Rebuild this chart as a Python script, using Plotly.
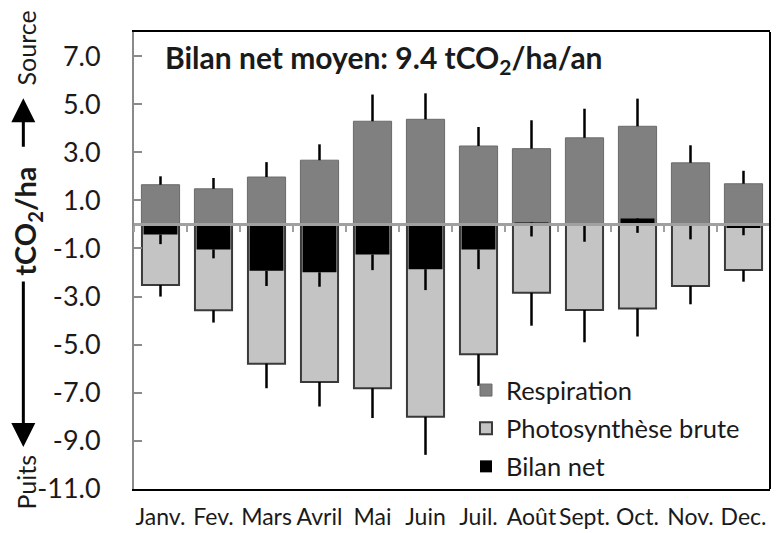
import plotly.graph_objects as go

# Monthly CO2 fluxes (tCO2/ha): ecosystem respiration, gross photosynthesis, net balance
months = ["Janv.", "Fev.", "Mars", "Avril", "Mai", "Juin", "Juil.", "Août", "Sept.", "Oct.", "Nov.", "Dec."]
respiration = [1.65, 1.48, 1.97, 2.67, 4.29, 4.37, 3.26, 3.15, 3.60, 4.08, 2.56, 1.69]
respiration_err = [0.35, 0.45, 0.62, 0.66, 1.11, 1.08, 0.79, 1.18, 1.21, 1.15, 0.73, 0.54]
photosynthese = [-2.52, -3.57, -5.79, -6.55, -6.81, -8.00, -5.40, -2.84, -3.56, -3.50, -2.56, -1.90]
photosynthese_err = [0.48, 0.51, 1.02, 1.02, 1.24, 1.58, 1.31, 1.37, 1.34, 1.16, 0.76, 0.48]
bilan = [-0.42, -1.04, -1.93, -1.99, -1.25, -1.86, -1.04, 0.08, -0.03, 0.25, -0.03, -0.15]
bilan_err = [0.40, 0.37, 0.63, 0.60, 0.65, 0.87, 0.82, 0.58, 0.69, 0.60, 0.59, 0.30]
y_ticks = [7, 5, 3, 1, -1, -3, -5, -7, -9, -11]
y_range = [-11, 8]

FONT = "Lato, 'Open Sans', sans-serif"
TXT = "#1a1a1a"
zeros = [0] * len(months)

fig = go.Figure()

fig.add_trace(go.Bar(
    name="Respiration", x=months, y=respiration, width=0.72,
    marker=dict(color="#808080", line=dict(color="#6a6a6a", width=1)),
    error_y=dict(type="data", symmetric=False, array=respiration_err, arrayminus=zeros,
                 color="black", thickness=2.5, width=0),
    legendgroup="r",
))
fig.add_trace(go.Bar(
    name="Photosynthèse brute", x=months, y=photosynthese, width=0.70,
    marker=dict(color="#c4c4c4", line=dict(color="#3a3a3a", width=2)),
    error_y=dict(type="data", symmetric=False, array=zeros, arrayminus=photosynthese_err,
                 color="black", thickness=2.5, width=0),
    legendgroup="p",
))
fig.add_trace(go.Bar(
    name="Bilan net", x=months, y=bilan, width=0.64,
    marker=dict(color="black", line=dict(color="black", width=0)),
    error_y=dict(type="data", symmetric=False, array=zeros, arrayminus=bilan_err,
                 color="black", thickness=2.5, width=0),
    legendgroup="b",
))
# empty trace so the zero-crossing category axis (x2) gets rendered
fig.add_trace(go.Scatter(
    x=months, y=[None] * len(months), xaxis="x2", mode="lines",
    showlegend=False, hoverinfo="skip",
))

zero_pos = (0 - y_range[0]) / (y_range[1] - y_range[0])

fig.update_layout(
    width=781, height=533,
    margin=dict(l=134, r=11, t=32, b=44, autoexpand=False),
    paper_bgcolor="white", plot_bgcolor="white",
    barmode="overlay",
    font=dict(family=FONT, color=TXT),
    showlegend=True,
    legend=dict(
        x=0.522, y=0.267, xanchor="left", yanchor="top",
        font=dict(size=25.5, family=FONT, color=TXT),
        bgcolor="rgba(0,0,0,0)", tracegroupgap=2, itemwidth=30,
    ),
    xaxis=dict(
        type="category", categoryarray=months, range=[-0.5, len(months) - 0.5],
        showline=True, mirror=True, linecolor="black", linewidth=2,
        ticks="outside", ticklen=6, tickcolor="rgba(0,0,0,0)",
        tickangle=0, tickfont=dict(size=23, color=TXT), showgrid=False,
    ),
    # category axis drawn through y = 0, with ticks at the category boundaries
    xaxis2=dict(
        type="category", categoryarray=months,
        overlaying="x", anchor="free", position=zero_pos, side="bottom",
        range=[-0.5, len(months) - 0.5], showline=True, linecolor="#a0a0a0", linewidth=3,
        ticks="outside", tickson="boundaries",
        ticklen=6, tickwidth=2, tickcolor="#a0a0a0",
        showticklabels=False, showgrid=False, zeroline=False, layer="above traces",
    ),
    yaxis=dict(
        range=y_range, tickvals=y_ticks, ticktext=[f"{v:.1f}" for v in y_ticks],
        ticks="inside", ticklen=8, tickwidth=2, tickcolor="#8a8a8a",
        showline=True, linecolor="#8a8a8a", linewidth=2,
        showgrid=False, zeroline=False, tickfont=dict(size=27, color=TXT),
        ticklabelstandoff=26,
    ),
    shapes=[dict(type="line", xref="paper", yref="paper", x0=1, x1=1, y0=0, y1=1,
                 line=dict(color="black", width=2))],
)

# Chart heading inside the plot area
fig.add_annotation(
    xref="paper", yref="paper", x=0.046, y=0.94, xanchor="left", yanchor="middle",
    text="<b>Bilan net moyen: 9.4 tCO<sub>2</sub>/ha/an</b>", showarrow=False,
    font=dict(size=30, family=FONT, color=TXT),
)

# Vertical axis title with source/sink arrows
fig.add_annotation(
    xref="paper", yref="paper", x=-0.168, y=0.585, xanchor="center", yanchor="middle",
    textangle=-90, text="<b>tCO<sub>2</sub>/ha</b>", showarrow=False,
    font=dict(size=29, family=FONT, color=TXT),
)
fig.add_annotation(
    xref="paper", yref="paper", x=-0.170, y=0.966, xanchor="center", yanchor="middle",
    textangle=-90, text="Source", showarrow=False, font=dict(size=25, family=FONT, color=TXT),
)
fig.add_annotation(
    xref="paper", yref="paper", x=-0.170, y=0.016, xanchor="center", yanchor="middle",
    textangle=-90, text="Puits", showarrow=False, font=dict(size=25, family=FONT, color=TXT),
)
fig.add_annotation(
    xref="paper", yref="paper", x=-0.174, y=0.855, ax=0, ay=50,
    text="", showarrow=True, arrowhead=2, arrowsize=1.6, arrowwidth=3, arrowcolor="black",
)
fig.add_annotation(
    xref="paper", yref="paper", x=-0.174, y=0.092, ax=0, ay=-167,
    text="", showarrow=True, arrowhead=2, arrowsize=1.6, arrowwidth=3, arrowcolor="black",
)

fig.write_html("out.html")
